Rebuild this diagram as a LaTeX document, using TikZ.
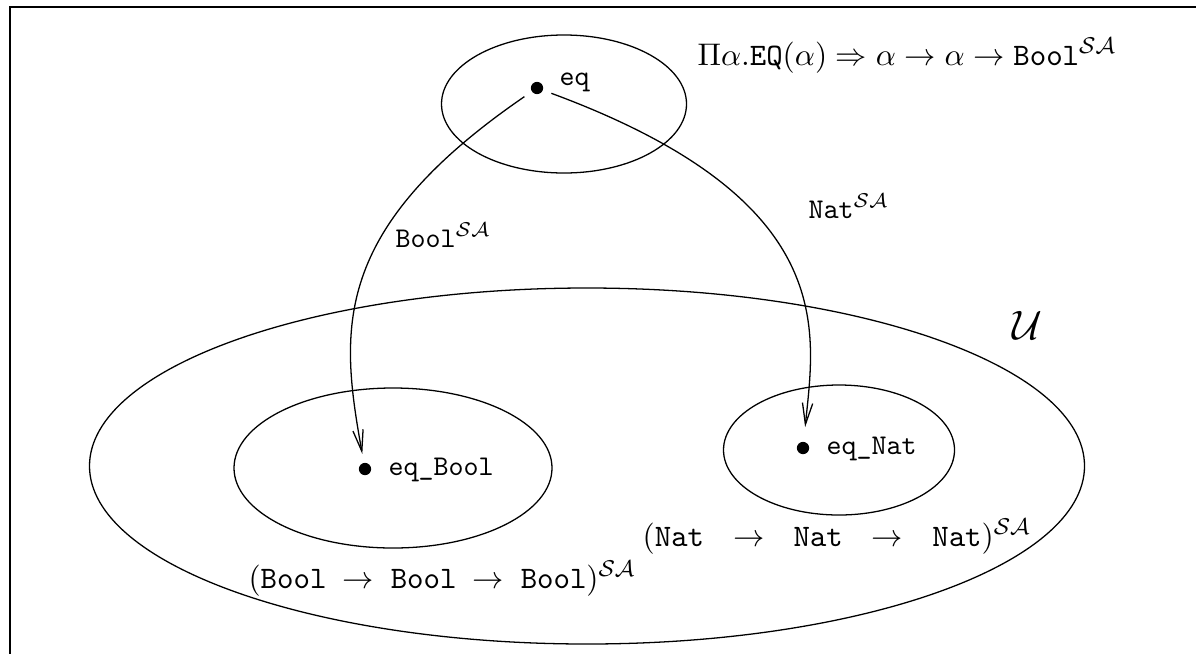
\documentclass[tikz,border=0pt]{standalone}
\usetikzlibrary{shapes.geometric,arrows.meta}
\begin{document}
\begin{tikzpicture}[x=0.35pt,y=-0.35pt,
  region/.style={draw, ellipse, line width=0.45pt, inner sep=0pt},
  elem/.style={circle, fill, inner sep=0pt, minimum size=4.3pt},
  lbl/.style={inner sep=0pt},
  biglbl/.style={inner sep=0pt, font=\fontsize{11}{13}\selectfont},
  map/.style={draw, line width=0.45pt, shorten <=3pt, -{Straight Barb[length=7.5pt,width=3.6pt]}}]
\useasboundingbox (0,0) rectangle (1196,654);
\coordinate (fa) at (1196,7);
\coordinate (fb) at (10,7);
\coordinate (fc) at (10,654);
\draw[line width=1pt] (fa) -- (fb) -- (fc);
\node[region, minimum width={245*0.35pt}, minimum height={138*0.35pt}] (top) at (564,104) {};
\node[region, minimum width={995*0.35pt}, minimum height={356*0.35pt}] (U) at (587,466) {};
\node[region, minimum width={318*0.35pt}, minimum height={160*0.35pt}] (L) at (393,468) {};
\node[region, minimum width={231*0.35pt}, minimum height={130*0.35pt}] (R) at (839,450) {};
\node[elem] (eq) at (537,88) {};
\node[lbl, anchor=base west] (eqt) at (559,85) {\texttt{eq}};
\node[elem] (eqb) at (365,469) {};
\node[lbl, anchor=base west] (eqbt) at (388,475) {\texttt{eq\_Bool}};
\node[elem] (eqn) at (803,448) {};
\node[lbl, anchor=base west] (eqnt) at (826,454) {\texttt{eq\_Nat}};
\node[biglbl, anchor=base west] (typ) at (697,65) {$\Pi\alpha.\mathtt{EQ(}\alpha\mathtt{)}\Rightarrow\alpha\to\alpha\to\mathtt{Bool}^{\mathcal{SA}}$};
\node[biglbl, anchor=base west] (tb) at (248,588) {$(\mathtt{Bool}\:\to\;\mathtt{Bool}\:\to\;\mathtt{Bool})^{\mathcal{SA}}$};
\node[biglbl, anchor=base west] (tn) at (642,546) {$(\mathtt{Nat}\hspace{0.65em}\to\hspace{0.65em}\mathtt{Nat}\hspace{0.65em}\to\hspace{0.65em}\mathtt{Nat})^{\mathcal{SA}}$};
\node[lbl, anchor=base west] (lb) at (395,247) {$\mathtt{Bool}^{\mathcal{SA}}$};
\node[lbl, anchor=base west] (ln) at (808,218) {$\mathtt{Nat}^{\mathcal{SA}}$};
\node[lbl] (lu) at (1027,325) {\Large$\mathcal{U}$};
\draw[map, shorten >=3pt] (eq) .. controls (330,230) and (340,330) .. (eqb);
\draw[map, shorten >=5pt] (eq) .. controls (840,200) and (815,330) .. (eqn);
\end{tikzpicture}
\end{document}
